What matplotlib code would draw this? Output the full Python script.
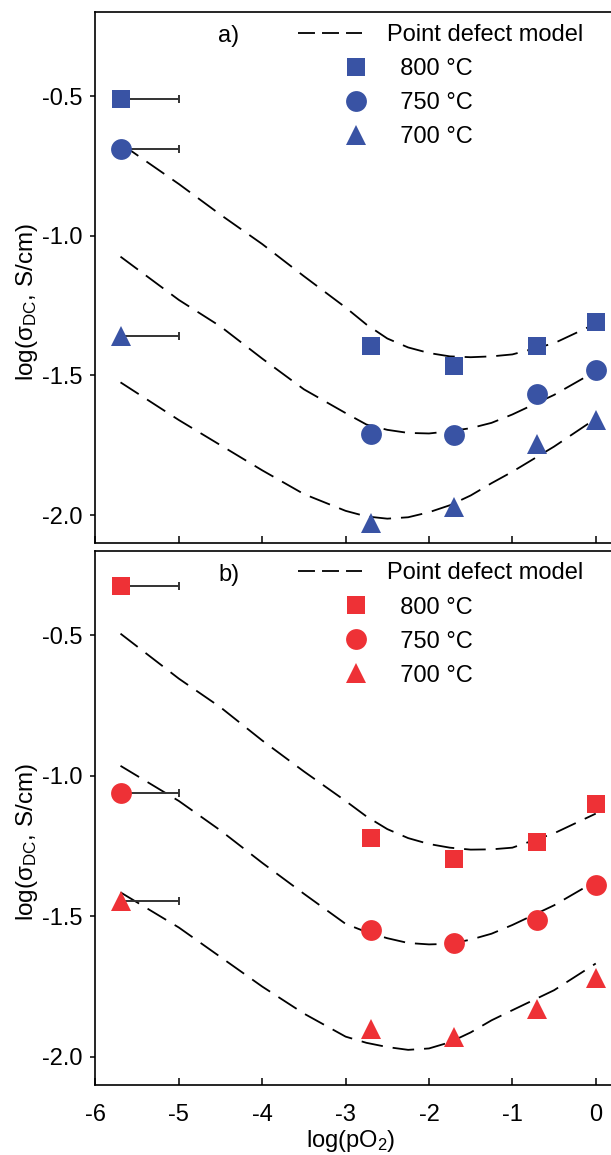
import matplotlib
matplotlib.use('Agg')
import matplotlib.pyplot as plt
from matplotlib.lines import Line2D
from matplotlib.legend_handler import HandlerLine2D

plt.rcParams['font.family'] = ['Liberation Sans', 'DejaVu Sans']
plt.rcParams['mathtext.fontset'] = 'custom'
plt.rcParams['mathtext.rm'] = 'Liberation Sans'
plt.rcParams['mathtext.it'] = 'Liberation Sans:italic'
plt.rcParams['axes.unicode_minus'] = False

# measured points (x = log pO2)
log_po2 = [-5.7, -2.7, -1.7, -0.7, 0.0]
temps = ['800 °C', '750 °C', '700 °C']

a_800 = [-0.51, -1.395, -1.465, -1.395, -1.31]
a_750 = [-0.69, -1.71, -1.715, -1.565, -1.48]
a_700 = [-1.36, -2.03, -1.97, -1.745, -1.66]

b_800 = [-0.325, -1.22, -1.295, -1.235, -1.10]
b_750 = [-1.06, -1.55, -1.595, -1.515, -1.39]
b_700 = [-1.445, -1.90, -1.93, -1.83, -1.72]

# point defect model curves
model_x = [-5.7, -5.0, -4.5, -4.0, -3.5, -3.0, -2.75, -2.5, -2.25, -2.0,
           -1.75, -1.5, -1.25, -1.0, -0.5, 0.0]
a_model_800 = [-0.67, -0.815, -0.925, -1.03, -1.145, -1.257, -1.318, -1.368, -1.40, -1.42,
               -1.432, -1.435, -1.432, -1.425, -1.385, -1.315]
a_model_750 = [-1.075, -1.23, -1.325, -1.44, -1.55, -1.635, -1.676, -1.695, -1.706, -1.708,
               -1.70, -1.689, -1.67, -1.64, -1.57, -1.485]
a_model_700 = [-1.525, -1.66, -1.75, -1.84, -1.925, -1.985, -2.005, -2.013, -2.008, -1.99,
               -1.965, -1.93, -1.886, -1.845, -1.755, -1.655]
b_model_800 = [-0.495, -0.655, -0.757, -0.875, -0.985, -1.09, -1.145, -1.19, -1.222, -1.243,
               -1.256, -1.263, -1.262, -1.256, -1.205, -1.135]
b_model_750 = [-0.965, -1.09, -1.195, -1.31, -1.42, -1.527, -1.556, -1.578, -1.595, -1.60,
               -1.598, -1.583, -1.562, -1.531, -1.461, -1.375]
b_model_700 = [-1.415, -1.54, -1.645, -1.75, -1.846, -1.928, -1.95, -1.965, -1.975, -1.97,
               -1.948, -1.913, -1.87, -1.834, -1.763, -1.668]

xerr_right = 0.7  # only for the lowest pO2 point

blue = '#3953A4'
red = '#EE3136'
markers = ['s', 'o', '^']
msizes = [12.5, 15, 15]
dash = (12, 5.5)
legend_dash = (9.4, 3.9)


class RightMarker(HandlerLine2D):
    # put the legend marker near the right end of the handle
    def create_artists(self, legend, orig_handle, xdescent, ydescent, width, height, fontsize, trans):
        arts = super().create_artists(legend, orig_handle, xdescent, ydescent,
                                      width, height, fontsize, trans)
        if orig_handle.get_linestyle() in ('None', 'none', ''):
            line = arts[0]
            y = line.get_ydata()[0]
            line.set_markevery(None)
            line.set_data([-xdescent + 0.9 * width], [y])
        return arts


fig = plt.figure(figsize=(6.11, 11.55), dpi=100)
ax_a = fig.add_axes([0.1563, 0.5299, 0.846, 0.4595])
ax_b = fig.add_axes([0.1563, 0.0606, 0.846, 0.4626])

panels = [
    (ax_a, 'a)', blue, [a_800, a_750, a_700], [a_model_800, a_model_750, a_model_700]),
    (ax_b, 'b)', red, [b_800, b_750, b_700], [b_model_800, b_model_750, b_model_700]),
]

for ax, tag, col, series, models in panels:
    for m in models:
        ax.plot(model_x, m, color='black', lw=1.3, dashes=dash, zorder=2)
    for ys, mk, ms in zip(series, markers, msizes):
        ax.errorbar([log_po2[0]], [ys[0]], xerr=[[0], [xerr_right]], fmt='none',
                    ecolor='#333333', elinewidth=1.4, capsize=3, capthick=1.4, zorder=2)
        ax.plot(log_po2, ys, ls='none', marker=mk, ms=ms, color=col,
                markeredgewidth=0, zorder=3)

    ax.set_xlim(-6, 0.2)
    ax.set_ylim(-2.1, -0.2)
    ax.set_xticks([-6, -5, -4, -3, -2, -1, 0])
    ax.set_yticks([-2.0, -1.5, -1.0, -0.5])
    ax.set_yticklabels(['-2.0', '-1.5', '-1.0', '-0.5'])
    ax.tick_params(axis='x', direction='in', length=5, width=1.1, labelsize=17, pad=14)
    ax.tick_params(axis='y', direction='out', length=3.7, width=1.1, labelsize=17, pad=6)
    for s in ax.spines.values():
        s.set_linewidth(1.2)
    ax.set_ylabel('log(σ$_{\\mathrm{DC}}$, S/cm)', fontsize=17.5)
    ax.yaxis.set_label_coords(-0.107, 0.454)

    ax.text(0.237, 0.955, tag, transform=ax.transAxes, fontsize=17, va='center', ha='left')

    handles = [Line2D([], [], color='black', lw=1.3, dashes=legend_dash, label='Point defect model')]
    for t, mk, ms in zip(temps, markers, msizes):
        handles.append(Line2D([], [], ls='none', marker=mk, ms=ms, color=col,
                              markeredgewidth=0, label='  ' + t))
    ax.legend(handles=handles, loc='upper left', bbox_to_anchor=(0.392, 0.978),
              frameon=False, fontsize=17, borderpad=0, borderaxespad=0,
              handlelength=2.7, handletextpad=1.05, labelspacing=0.51,
              handler_map={Line2D: RightMarker(numpoints=1)})

ax_a.tick_params(axis='x', labelbottom=False)
ax_b.set_xlabel('log(pO$_2$)', fontsize=17)
ax_b.xaxis.set_label_coords(0.494, -0.08)

fig.savefig('out.png', dpi=100)
